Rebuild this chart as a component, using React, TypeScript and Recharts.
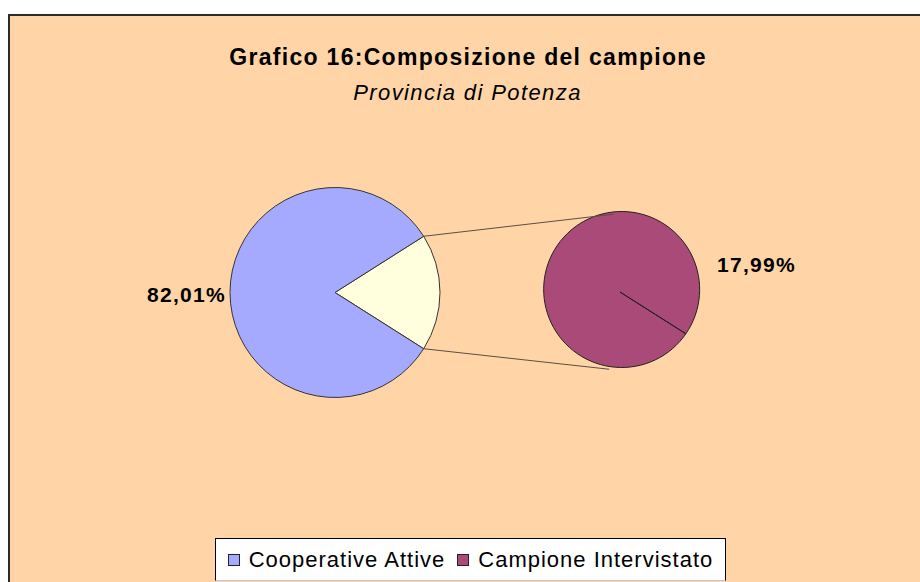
import * as React from "react";
import { PieChart, Pie, Cell } from "recharts";

const TITLE = "Grafico 16:Composizione del campione";
const SUBTITLE = "Provincia di Potenza";
const categories = ["Cooperative Attive", "Campione Intervistato"];
const shares = [82.01, 17.99];
const mainColors = ["#A6AAFF", "#FFFFDD"];
const legendColors = ["#A6AAFF", "#AA4A78"];
const detailColor = "#AA4A78";

const FONT = '"Liberation Sans", Arial, sans-serif';
const BG = "#FFD5A8";
const INK = "#2e2a26";

const W = 910;
const H = 566;
const MAIN = { cx: 325, cy: 276.5, r: 105 };
const SIDE = { cx: 610, cy: 276, r: 78 };
// the broken-out slice sits centred on 3 o'clock
const SPLIT = (shares[1] * 3.6) / 2;
const JOIN_TOP = 95;
const JOIN_BOTTOM = -98;

const RAD = Math.PI / 180;
const polar = (cx: number, cy: number, r: number, a: number) => ({
  x: cx + r * Math.cos(-a * RAD),
  y: cy + r * Math.sin(-a * RAD),
});
const fmt = (v: number) => v.toFixed(2).replace(".", ",") + "%";

const mainData = [
  { name: categories[1], value: shares[1] },
  { name: categories[0], value: shares[0] },
];
const sideData = [{ name: categories[1], value: shares[1] }];

const labelStyle = { fontFamily: FONT, fontWeight: 700, fontSize: 21, letterSpacing: 1.3, fill: "#000" };

function mainLabel(p: any) {
  if (p.name === categories[1]) {
    const a = polar(p.cx, p.cy, p.outerRadius, p.endAngle);
    const b = polar(p.cx, p.cy, p.outerRadius, p.startAngle);
    const ta = polar(SIDE.cx, SIDE.cy, SIDE.r, JOIN_TOP);
    const tb = polar(SIDE.cx, SIDE.cy, SIDE.r, JOIN_BOTTOM);
    return (
      <g>
        <line x1={a.x} y1={a.y} x2={ta.x} y2={ta.y} stroke="#5a4e44" strokeWidth={1} />
        <line x1={b.x} y1={b.y} x2={tb.x} y2={tb.y} stroke="#5a4e44" strokeWidth={1} />
      </g>
    );
  }
  return (
    <text x={p.cx - p.outerRadius - 4} y={p.cy + 9} textAnchor="end" style={labelStyle}>
      {fmt(p.percent * 100)}
    </text>
  );
}

function sideLabel(p: any) {
  return (
    <text x={p.cx + p.outerRadius + 19} y={p.cy - 20} textAnchor="start" style={labelStyle}>
      {fmt(p.value)}
    </text>
  );
}

export default function App() {
  return (
    <div
      style={{
        position: "fixed",
        left: 8,
        top: 14,
        width: 912,
        height: 568,
        boxSizing: "border-box",
        borderTop: `2px solid ${INK}`,
        borderLeft: `2px solid ${INK}`,
        background: BG,
        overflow: "hidden",
      }}
    >
      <PieChart width={W} height={H} margin={{ top: 0, right: 0, bottom: 0, left: 0 }}>
        <Pie
          data={mainData}
          dataKey="value"
          cx={MAIN.cx}
          cy={MAIN.cy}
          outerRadius={MAIN.r}
          startAngle={-SPLIT}
          endAngle={360 - SPLIT}
          stroke="#333"
          strokeWidth={1}
          label={mainLabel}
          labelLine={false}
          isAnimationActive={false}
        >
          <Cell fill={mainColors[1]} />
          <Cell fill={mainColors[0]} />
        </Pie>
        <Pie
          data={sideData}
          dataKey="value"
          cx={SIDE.cx}
          cy={SIDE.cy}
          outerRadius={SIDE.r}
          startAngle={-SPLIT}
          endAngle={360 - SPLIT}
          fill={detailColor}
          stroke="#222"
          strokeWidth={1}
          label={sideLabel}
          labelLine={false}
          isAnimationActive={false}
        />
      </PieChart>

      <svg width={W} height={H} style={{ position: "absolute", left: 0, top: 0, pointerEvents: "none" }}>
        <text x={458} y={48.5} textAnchor="middle" style={{ fontFamily: FONT, fontWeight: 700, fontSize: 23, letterSpacing: 1.3 }}>
          {TITLE}
        </text>
        <text x={457.5} y={84} textAnchor="middle" style={{ fontFamily: FONT, fontStyle: "italic", fontSize: 22, letterSpacing: 1.4 }}>
          {SUBTITLE}
        </text>
      </svg>

      <div
        style={{
          position: "absolute",
          left: 205,
          top: 522,
          width: 511,
          height: 43,
          boxSizing: "border-box",
          border: "1px solid #000",
          borderBottomColor: "#c8c8c8",
          background: "#fff",
          display: "flex",
          alignItems: "center",
          justifyContent: "center",
          fontFamily: FONT,
          fontSize: 22,
          letterSpacing: 1,
          whiteSpace: "nowrap",
        }}
      >
        {categories.map((c, i) => (
          <div key={c} style={{ display: "flex", alignItems: "center", marginLeft: i ? 12 : 0 }}>
            <span
              style={{
                display: "inline-block",
                width: 12,
                height: 12,
                boxSizing: "border-box",
                border: "1px solid #222",
                background: legendColors[i],
                marginRight: 9,
              }}
            />
            <span>{c}</span>
          </div>
        ))}
      </div>
    </div>
  );
}
